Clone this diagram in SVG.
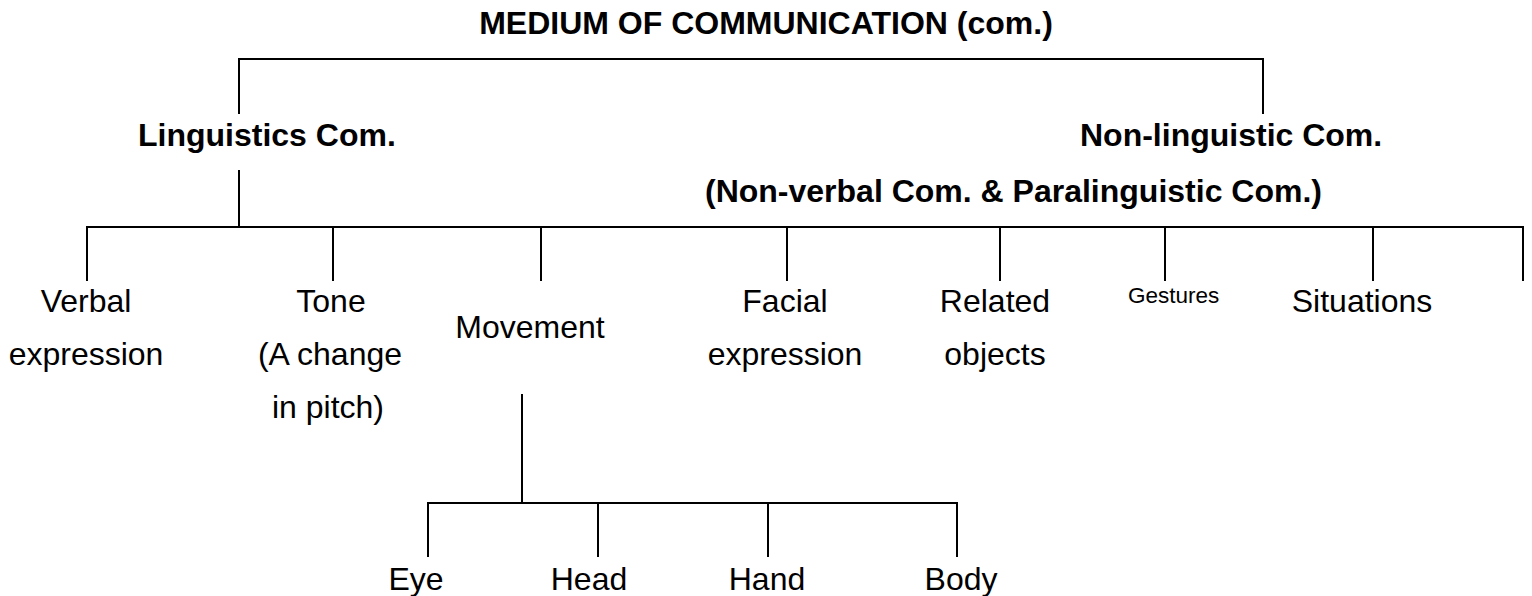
<svg xmlns="http://www.w3.org/2000/svg" width="1532" height="596" viewBox="0 0 1532 596">
<style>
.b{font-family:"Liberation Sans",Arial,sans-serif;font-weight:bold;font-size:32px;fill:#000}
.r{font-family:"Liberation Sans",Arial,sans-serif;font-size:32px;fill:#000;text-anchor:middle}
.s{font-family:"Liberation Sans",Arial,sans-serif;font-size:22.5px;fill:#000}
.c line{stroke:#000;stroke-width:2;fill:none}
</style>
<rect width="1532" height="596" fill="#fff"/>
<g class="c" id="connectors">
<line x1="239" y1="59" x2="1263" y2="59"/>
<line x1="239" y1="58" x2="239" y2="114"/>
<line x1="1263" y1="58" x2="1263" y2="114"/>
<line x1="239" y1="170" x2="239" y2="227"/>
<line x1="86" y1="227" x2="1524" y2="227"/>
<line x1="87" y1="226" x2="87" y2="281"/>
<line x1="333" y1="226" x2="333" y2="281"/>
<line x1="541" y1="226" x2="541" y2="281"/>
<line x1="787" y1="226" x2="787" y2="281"/>
<line x1="1000" y1="226" x2="1000" y2="281"/>
<line x1="1165" y1="226" x2="1165" y2="281"/>
<line x1="1373" y1="226" x2="1373" y2="281"/>
<line x1="1523" y1="226" x2="1523" y2="281"/>
<line x1="522" y1="394" x2="522" y2="503"/>
<line x1="427" y1="503" x2="958" y2="503"/>
<line x1="428" y1="502" x2="428" y2="557"/>
<line x1="598" y1="502" x2="598" y2="557"/>
<line x1="768" y1="502" x2="768" y2="557"/>
<line x1="957" y1="502" x2="957" y2="557"/>
</g>
<g id="root"><text class="b" x="766" y="34" text-anchor="middle">MEDIUM OF COMMUNICATION (com.)</text></g>
<g id="linguistic"><text class="b" x="138" y="146">Linguistics Com.</text></g>
<g id="nonlinguistic"><text class="b" x="1080" y="146">Non-linguistic Com.</text><text class="b" x="705" y="202">(Non-verbal Com. &amp; Paralinguistic Com.)</text></g>
<g id="verbal"><text class="r" x="86" y="312">Verbal</text><text class="r" x="86" y="365">expression</text></g>
<g id="tone"><text class="r" x="331" y="312">Tone</text><text class="r" x="330" y="365">(A change</text><text class="r" x="328" y="418">in pitch)</text></g>
<g id="movement"><text class="r" x="530" y="338">Movement</text></g>
<g id="facial"><text class="r" x="785" y="312">Facial</text><text class="r" x="785" y="365">expression</text></g>
<g id="related"><text class="r" x="995" y="312">Related</text><text class="r" x="995" y="365">objects</text></g>
<g id="gestures"><text class="s" x="1128" y="303">Gestures</text></g>
<g id="situations"><text class="r" x="1362" y="312">Situations</text></g>
<g id="eye"><text class="r" x="416" y="590">Eye</text></g>
<g id="head"><text class="r" x="589" y="590">Head</text></g>
<g id="hand"><text class="r" x="767" y="590">Hand</text></g>
<g id="body"><text class="r" x="961" y="590">Body</text></g>
</svg>
